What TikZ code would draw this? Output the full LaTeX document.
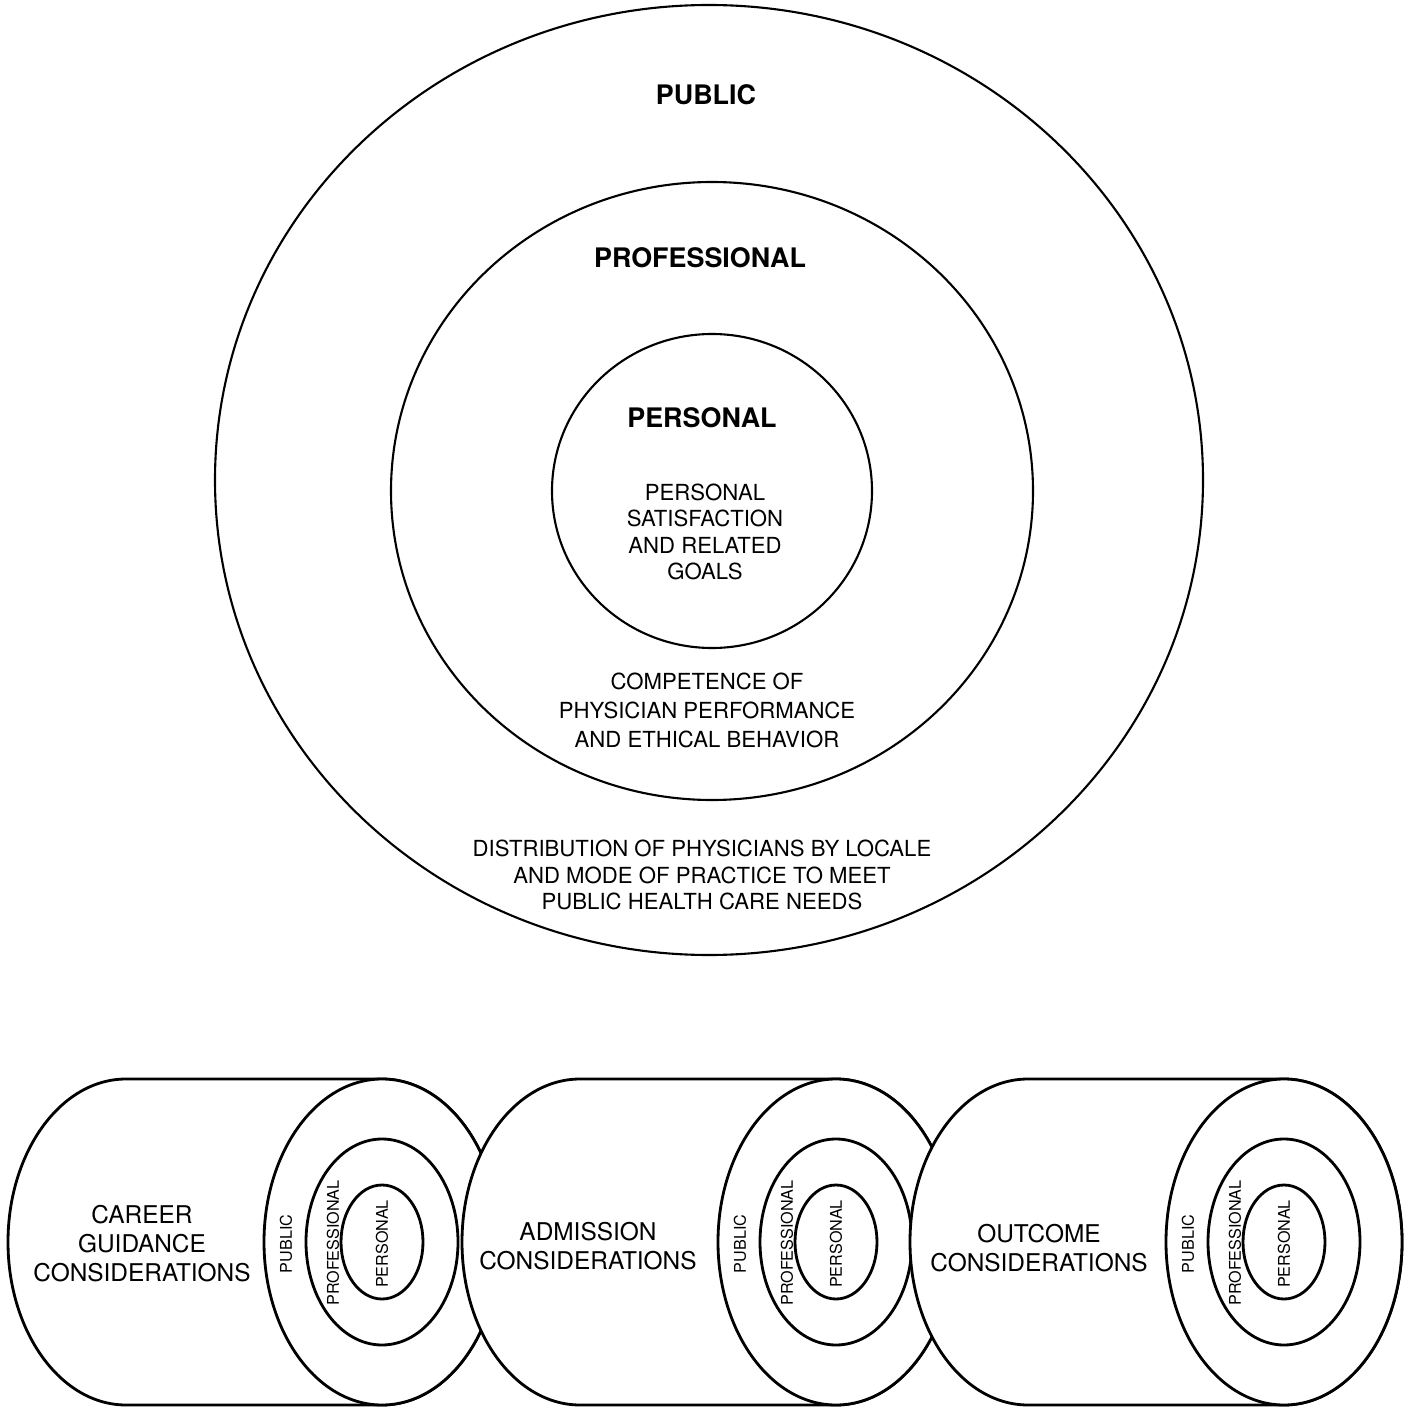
\documentclass[tikz,border=0pt]{standalone}
\usepackage{fontspec}
\setmainfont{TeX Gyre Heros}

\tikzset{
  ring/.style={line width=1.2pt},
  tube/.style={line width=1.6pt, fill=white},
  heading/.style={font=\fontsize{15.3}{18}\selectfont\bfseries},
  body/.style={font=\fontsize{12.6}{15}\selectfont, align=center},
  tubetext/.style={font=\fontsize{13.9}{16.5}\selectfont, align=center},
  ringtext/.style={font=\fontsize{9.2}{11}\selectfont, rotate=90},
}

\begin{document}
\begin{tikzpicture}[x=0.2mm, y=-0.2mm]

  % Bounding box of the scheme
  \useasboundingbox (0,0) rectangle (1410,1408);

  %%%%%%%%%%%%%%%%%%%%%%%%%%%%%%%%% The three circles %%%%%%%%%%%%%%%%%%%%%%%%%%%%%%%%%%%%
  \draw[ring] (709,480) ellipse [x radius=494, y radius=475];
  \draw[ring] (712,491) ellipse [x radius=321, y radius=309];
  \draw[ring] (712,491) ellipse [x radius=160, y radius=157];

  \draw (706,95) node[heading] (public) {PUBLIC} ;
  \draw (700,258) node[heading] (professional) {PROFESSIONAL} ;
  \draw (702,418) node[heading] (personal) {PERSONAL} ;

  \draw (705,532) node[body] (goals) {PERSONAL\\ SATISFACTION\\ AND RELATED\\ GOALS} ;
  \draw (707,710) node[body] (competence) {COMPETENCE OF\\[1.5pt] PHYSICIAN PERFORMANCE\\[1.5pt] AND ETHICAL BEHAVIOR} ;
  \draw (702,875) node[body] (distribution) {DISTRIBUTION OF PHYSICIANS BY LOCALE\\ AND MODE OF PRACTICE TO MEET\\ PUBLIC HEALTH CARE NEEDS} ;

  %%%%%%%%%%%%%%%%%%%%%%%%%%%%%%%%% The three tubes %%%%%%%%%%%%%%%%%%%%%%%%%%%%%%%%%%%%
  \foreach \fc/\nm in {382/a, 836/b, 1284/c} {
    \draw[tube] (\fc,1079) -- (\fc-256,1079)
      arc [start angle=270, end angle=90, x radius=118, y radius=163] -- (\fc,1405)
      arc [start angle=90, end angle=-90, x radius=118, y radius=163] -- cycle ;
    \draw[tube] (\fc,1242) ellipse [x radius=118, y radius=163];
    \draw[tube] (\fc,1242) ellipse [x radius=76, y radius=103];
    \draw[tube] (\fc,1242) ellipse [x radius=41, y radius=57];

    \draw (\fc-96,1244) node[ringtext] (pub\nm) {PUBLIC} ;
    \draw (\fc-49,1243) node[ringtext] (pro\nm) {PROFESSIONAL} ;
    \draw (\fc,1244) node[ringtext] (per\nm) {PERSONAL} ;
  }

  % Names of the tubes
  \draw (142,1244) node[tubetext] (career) {CAREER\\ GUIDANCE\\ CONSIDERATIONS} ;
  \draw (588,1246) node[tubetext] (admission) {ADMISSION\\ CONSIDERATIONS} ;
  \draw (1039,1248) node[tubetext] (outcome) {OUTCOME\\ CONSIDERATIONS} ;

\end{tikzpicture}
\end{document}
